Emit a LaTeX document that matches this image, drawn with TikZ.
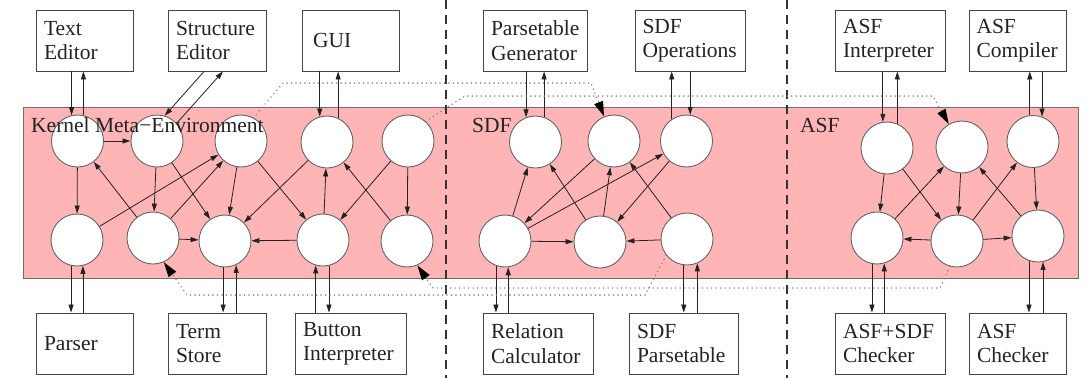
\documentclass[tikz,border=0pt]{standalone}
\usepackage{fontspec}
\setmainfont{Liberation Serif}
\usetikzlibrary{arrows.meta,calc}
\definecolor{panel}{RGB}{255,181,181}
\definecolor{framegray}{RGB}{110,110,110}
\definecolor{boxgray}{RGB}{70,70,70}
\definecolor{circgray}{RGB}{100,100,100}
\definecolor{inkgray}{RGB}{35,35,35}
\definecolor{dotgray}{RGB}{120,120,120}
\begin{document}
\begin{tikzpicture}[x=1pt,y=-1pt,
  font=\fontsize{21.5}{24.5}\selectfont,
  box/.style={draw=boxgray, line width=0.9pt, minimum height=61pt,
    inner xsep=7pt, inner ysep=0pt, align=left, text=inkgray},
  circ/.style={circle, draw=circgray, fill=white, line width=0.9pt,
    minimum size=52pt, inner sep=0pt},
  link/.style={draw=inkgray, line width=0.8pt,
    -{Triangle[length=8pt,width=5pt]}},
  trace/.style={draw=dotgray, line width=1.5pt, dash pattern=on 0.1pt off 4.4pt,
    line cap=round, -{Triangle[length=15pt,width=9pt,color=black]}},
  divider/.style={draw=black!80, line width=1.3pt, dash pattern=on 9pt off 6pt},
  title/.style={anchor=base west, inner sep=0pt, text=inkgray}]
\useasboundingbox (0,0) rectangle (1088,378);

% shared panel of the three environments
\draw[draw=framegray, fill=panel, line width=0.9pt] (23,107) rectangle (1078,278);

% separators between Kernel, SDF and ASF parts
\coordinate (d1t) at (446,0);  \coordinate (d1b) at (446,378);
\coordinate (d2t) at (787,0);  \coordinate (d2b) at (787,378);
\draw[divider] (d1t) -- (d1b);
\draw[divider] (d2t) -- (d2b);

% tools above the panel
\node[box, minimum width=97pt, text width=81pt] (te) at (84.5,40.5) {Text\\Editor};
\node[box, minimum width=98pt, text width=82pt] (se) at (217,40.5) {Structure\\Editor};
\node[box, minimum width=97pt, text width=81pt] (gui) at (350.5,40.5) {\hspace*{3pt}GUI};
\node[box, minimum width=104pt, text width=88pt] (pg) at (535,40.5) {Parsetable\\Generator};
\node[box, minimum width=110pt, text width=95pt] (so) at (690,40.5) {SDF\\Operations};
\node[box, minimum width=110pt, text width=94pt] (ai) at (890,40.5) {ASF\\Interpreter};
\node[box, minimum width=97pt, text width=82pt] (ac) at (1017.5,40.5) {ASF\\Compiler};

% tools below the panel
\node[box, minimum width=97pt, text width=81pt] (pa) at (84.5,343.5) {Parser};
\node[box, minimum width=98pt, text width=82pt] (ts) at (217,343.5) {Term\\Store};
\node[box, minimum width=111pt, text width=95pt] (bi) at (350.5,343.5) {Button\\Interpreter};
\node[box, minimum width=110pt, text width=94pt] (rc) at (538,343.5) {Relation\\Calculator};
\node[box, minimum width=109pt, text width=93pt] (sp) at (683.5,343.5) {SDF\\Parsetable};
\node[box, minimum width=110pt, text width=94pt] (asc) at (890,343.5) {ASF+SDF\\Checker};
\node[box, minimum width=97pt, text width=81pt] (afc) at (1017.5,343.5) {ASF\\Checker};

% Kernel components
\node[circ] (k1) at (77.5,141) {};
\node[circ] (k2) at (157,141) {};
\node[circ] (k3) at (241,141) {};
\node[circ] (k4) at (327,142) {};
\node[circ] (k5) at (408,141) {};
\node[circ] (k6) at (77,240) {};
\node[circ] (k7) at (153,238) {};
\node[circ] (k8) at (225,241) {};
\node[circ] (k9) at (323,240) {};
\node[circ] (k10) at (407,241) {};
% SDF components
\node[circ] (s1) at (535.5,142) {};
\node[circ] (s2) at (614,141) {};
\node[circ] (s3) at (686.5,141) {};
\node[circ] (s4) at (505,241) {};
\node[circ] (s5) at (600,242) {};
\node[circ] (s6) at (687,239) {};
% ASF components
\node[circ] (a1) at (887,148) {};
\node[circ] (a2) at (962,147) {};
\node[circ] (a3) at (1033,141.5) {};
\node[circ] (a4) at (877,238) {};
\node[circ] (a5) at (957,241) {};
\node[circ] (a6) at (1038,236) {};

% Kernel internal links
\draw[link] (k1) -- (k2);
\draw[link] (k1) -- (k6);
\draw[link] (k7) -- (k1);
\draw[link] (k2) -- (k7);
\draw[link] (k2) -- (k8);
\draw[link] (k6) -- (k3);
\draw[link] (k7) -- (k3);
\draw[link] (k7) -- (k8);
\draw[link] (k3) -- (k8);
\draw[link] (k3) -- (k9);
\draw[link] (k4) -- (k8);
\draw[link] (k9) -- (k8);
\draw[link] (k9) -- (k4);
\draw[link] (k5) -- (k9);
\draw[link] (k10) -- (k4);
\draw[link] (k5) -- (k10);
% SDF internal links
\draw[link] (s4) -- (s1);
\draw[link] (s5) -- (s1);
\draw[link] (s2) -- (s4);
\draw[link] (s4) -- (s3);
\draw[link] (s5) -- (s2);
\draw[link] (s3) -- (s5);
\draw[link] (s6) -- (s2);
\draw[link] (s4) -- (s5);
\draw[link] (s6) -- (s5);
% ASF internal links
\draw[link] (a1) -- (a4);
\draw[link] (a1) -- (a5);
\draw[link] (a4) -- (a2);
\draw[link] (a2) -- (a5);
\draw[link] (a5) -- (a3);
\draw[link] (a6) -- (a2);
\draw[link] (a3) -- (a6);
\draw[link] (a5) -- (a4);
\draw[link] (a5) -- (a6);

% request / reply pairs with the tools
\draw[link] (k1.103 |- te.south) -- (k1.103);
\draw[link] (k1.77) -- (k1.77 |- te.south);
\draw[link] ([xshift=-13pt]se.south) -- (k2.73);
\draw[link] (k2.42) -- ([xshift=6pt]se.south);
\draw[link] (k4.106 |- gui.south) -- (k4.106);
\draw[link] (k4.65) -- (k4.65 |- gui.south);
\draw[link] (k6.257) -- (k6.257 |- pa.north);
\draw[link] (k6.283 |- pa.north) -- (k6.283);
\draw[link] (k8.266) -- (k8.266 |- ts.north);
\draw[link] (k8.295 |- ts.north) -- (k8.295);
\draw[link] (k9.254 |- bi.north) -- (k9.254);
\draw[link] (k9.283) -- (k9.283 |- bi.north);
\draw[link] (s1.111 |- pg.south) -- (s1.111);
\draw[link] (s1.71) -- (s1.71 |- pg.south);
\draw[link] (s3.124) -- (s3.124 |- so.south);
\draw[link] (s3.82 |- so.south) -- (s3.82);
\draw[link] (s4.250) -- (s4.250 |- rc.north);
\draw[link] (s4.277 |- rc.north) -- (s4.277);
\draw[link] (s6.263) -- (s6.263 |- sp.north);
\draw[link] (s6.293 |- sp.north) -- (s6.293);
\draw[link] (a1.99 |- ai.south) -- (a1.99);
\draw[link] (a1.67) -- (a1.67 |- ai.south);
\draw[link] (a3.97) -- (a3.97 |- ac.south);
\draw[link] (a3.70 |- ac.south) -- (a3.70);
\draw[link] (a4.259) -- (a4.259 |- asc.north);
\draw[link] (a4.286 |- asc.north) -- (a4.286);
\draw[link] (a6.250) -- (a6.250 |- afc.north);
\draw[link] (a6.281 |- afc.north) -- (a6.281);

% part titles
\node[title] (kt) at (31,132) {Kernel Meta−Environment};
\node[title] (st) at (472,132) {SDF};
\node[title] (at) at (800,132) {ASF};

% dotted cross-part traces
\draw[trace] (k3.62) -- (283,83) -- (591,83) -- (s2.112);
\draw[trace] (k5.48) -- (448,107) -- (465,96) -- (933,96) -- (a2.120);
\draw[trace] (s6.218) -- (645,295) -- (187,295) -- (k7.294);
\draw[trace] (a5.254) -- (940,288) -- (433,288) -- (k10.293);
\end{tikzpicture}
\end{document}
